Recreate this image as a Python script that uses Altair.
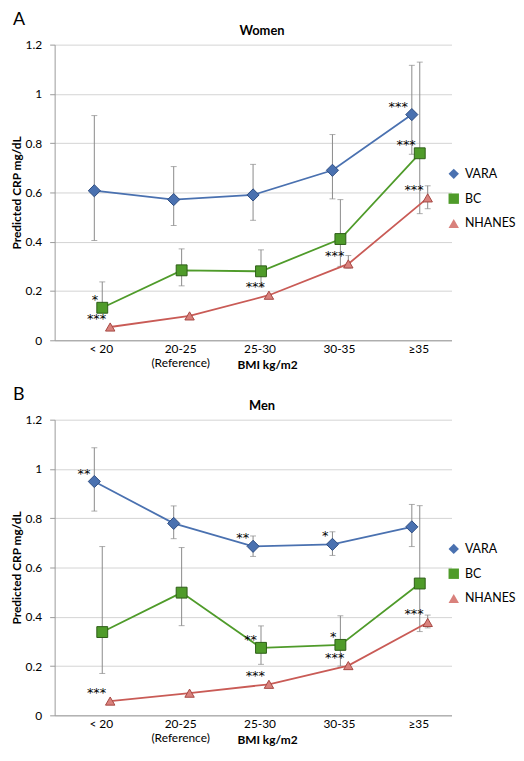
import altair as alt
import pandas as pd

cats = ["< 20", "20-25", "25-30", "30-35", "≥35"]
series = ["VARA", "BC", "NHANES"]

# Women (panel A)
w_vara = [0.607, 0.571, 0.590, 0.690, 0.916]
w_vara_lo = [0.405, 0.466, 0.487, 0.574, 0.755]
w_vara_hi = [0.912, 0.705, 0.714, 0.835, 1.116]
w_bc = [0.132, 0.284, 0.280, 0.411, 0.759]
w_bc_lo = [0.125, 0.221, 0.217, 0.300, 0.514]
w_bc_hi = [0.237, 0.371, 0.367, 0.571, 1.129]
w_nh = [0.054, 0.099, 0.183, 0.310, 0.578]
w_nh_lo = [0.054, 0.099, 0.183, 0.293, 0.534]
w_nh_hi = [0.054, 0.099, 0.183, 0.344, 0.627]
w_sig_vara = ["", "", "", "", "***"]
w_sig_bc = ["*", "", "", "", "***"]
w_sig_nh = ["***", "", "***", "***", "***"]

# Men (panel B)
m_vara = [0.949, 0.779, 0.686, 0.694, 0.765]
m_vara_lo = [0.829, 0.717, 0.645, 0.649, 0.685]
m_vara_hi = [1.086, 0.850, 0.728, 0.745, 0.856]
m_bc = [0.338, 0.498, 0.274, 0.286, 0.535]
m_bc_lo = [0.170, 0.364, 0.207, 0.200, 0.340]
m_bc_hi = [0.685, 0.681, 0.363, 0.404, 0.851]
m_nh = [0.058, 0.090, 0.126, 0.202, 0.377]
m_nh_lo = [0.058, 0.090, 0.126, 0.202, 0.355]
m_nh_hi = [0.058, 0.090, 0.126, 0.202, 0.407]
m_sig_vara = ["**", "", "**", "*", ""]
m_sig_bc = ["", "", "**", "*", ""]
m_sig_nh = ["***", "", "***", "***", "***"]

line_colors = ["#4A71B0", "#4F9B2A", "#C95B56"]
fill_colors = ["#4A71B0", "#4F9B2A", "#D9817C"]
edge_colors = ["#2E4D80", "#2D5E17", "#A54843"]
shapes = ["diamond", "square", "triangle-up"]

FONT = "Lato"


def make_df(vals, los, his, sigs):
    rows = []
    for s, v, lo, hi, sg in zip(series, vals, los, his, sigs):
        for i, c in enumerate(cats):
            rows.append(dict(series=s, bmi=c, v=v[i], lo=lo[i], hi=hi[i], sig=sg[i]))
    return pd.DataFrame(rows)


df_w = make_df([w_vara, w_bc, w_nh], [w_vara_lo, w_bc_lo, w_nh_lo],
               [w_vara_hi, w_bc_hi, w_nh_hi], [w_sig_vara, w_sig_bc, w_sig_nh])
df_m = make_df([m_vara, m_bc, m_nh], [m_vara_lo, m_bc_lo, m_nh_lo],
               [m_vara_hi, m_bc_hi, m_nh_hi], [m_sig_vara, m_sig_bc, m_sig_nh])


def panel(df, title, letter):
    xenc = alt.X(
        "bmi:N", sort=cats,
        scale=alt.Scale(domain=cats, paddingInner=0, paddingOuter=0),
        axis=alt.Axis(
            title="BMI kg/m2", titleFontWeight="bold", titleFontSize=12,
            titleX=214, titleY=28, titleBaseline="alphabetic",
            labelAngle=0, labelOffset=7, labelPadding=3, labelFontSize=12,
            labelLineHeight=14, labelColor="black",
            labelExpr="datum.value == '20-25' ? ['20-25', '(Reference)'] : datum.value",
            ticks=False, domain=True, domainColor="#9a9a9a", grid=False,
        ),
    )
    xoff = alt.XOffset("series:N", scale=alt.Scale(type="point", domain=series, range=[40, 56], padding=0))
    yscale = alt.Scale(domain=[0, 1.2], nice=False)
    yenc = alt.Y(
        "v:Q", scale=yscale,
        axis=alt.Axis(
            values=[0, 0.2, 0.4, 0.6, 0.8, 1.0, 1.2], format=".1~f",
            title="Predicted CRP mg/dL", titleFontWeight="bold", titleFontSize=12,
            titlePadding=2, tickSize=5, tickColor="#9a9a9a", domainColor="#9a9a9a",
            gridColor="#d4d4d4", labelPadding=8, labelFontSize=12, labelColor="black",
        ),
    )
    base = alt.Chart(df).encode(x=xenc, xOffset=xoff)

    bars = base.transform_filter("datum.hi > datum.lo + 0.001")
    rule = bars.mark_rule(color="#8a8a8a", strokeWidth=1).encode(
        y=alt.Y("lo:Q", scale=yscale), y2="hi:Q")
    cap_hi = bars.mark_tick(color="#8a8a8a", size=6, thickness=1).encode(
        y=alt.Y("hi:Q", scale=yscale))
    cap_lo = bars.mark_tick(color="#8a8a8a", size=6, thickness=1).encode(
        y=alt.Y("lo:Q", scale=yscale))

    lines = base.mark_line(strokeWidth=1.8).encode(
        y=yenc,
        color=alt.Color("series:N", scale=alt.Scale(domain=series, range=line_colors), legend=None),
        detail="series:N",
    )
    legend = alt.Legend(
        title=None, orient="none", legendX=396, legendY=124, labelFontSize=12.5,
        labelColor="black", symbolSize=110, rowPadding=10, padding=0, labelOffset=5,
        symbolStrokeWidth=1,
    )
    points = base.mark_point(filled=True, opacity=1, strokeWidth=1).encode(
        y=yenc,
        fill=alt.Fill("series:N", scale=alt.Scale(domain=series, range=fill_colors), legend=legend),
        shape=alt.Shape("series:N", scale=alt.Scale(domain=series, range=shapes), legend=legend),
        stroke=alt.Stroke("series:N", scale=alt.Scale(domain=series, range=edge_colors), legend=None),
        size=alt.Size("series:N", scale=alt.Scale(domain=series, range=[150, 90, 140]), legend=None),
    )
    stars = base.mark_text(align="right", baseline="middle", dx=-4, dy=-8, fontSize=13,
                           font="DejaVu Sans", color="black").encode(y=yenc, text="sig:N")

    letter_t = alt.Chart(pd.DataFrame({"t": [letter]})).mark_text(
        align="left", baseline="alphabetic", fontSize=18, color="black"
    ).encode(text="t:N", x=alt.value(-42), y=alt.value(-20))
    title_t = alt.Chart(pd.DataFrame({"t": [title]})).mark_text(
        align="center", baseline="middle", fontSize=13, fontWeight="bold", color="black"
    ).encode(text="t:N", x=alt.value(209), y=alt.value(-14))

    return alt.layer(rule, cap_hi, cap_lo, lines, points, stars, letter_t, title_t).properties(
        width=400, height=298)


pA = panel(df_w, "Women", "A")
pB = panel(df_m, "Men", "B")

chart = alt.vconcat(pA, pB, spacing=16).properties(
    padding={"left": 2, "top": 0, "right": 0, "bottom": 0}
).resolve_legend(
    fill="independent", shape="independent"
).configure(font=FONT).configure_view(stroke=None)

chart.save("out.html", embed_options={"renderer": "svg", "actions": False})
